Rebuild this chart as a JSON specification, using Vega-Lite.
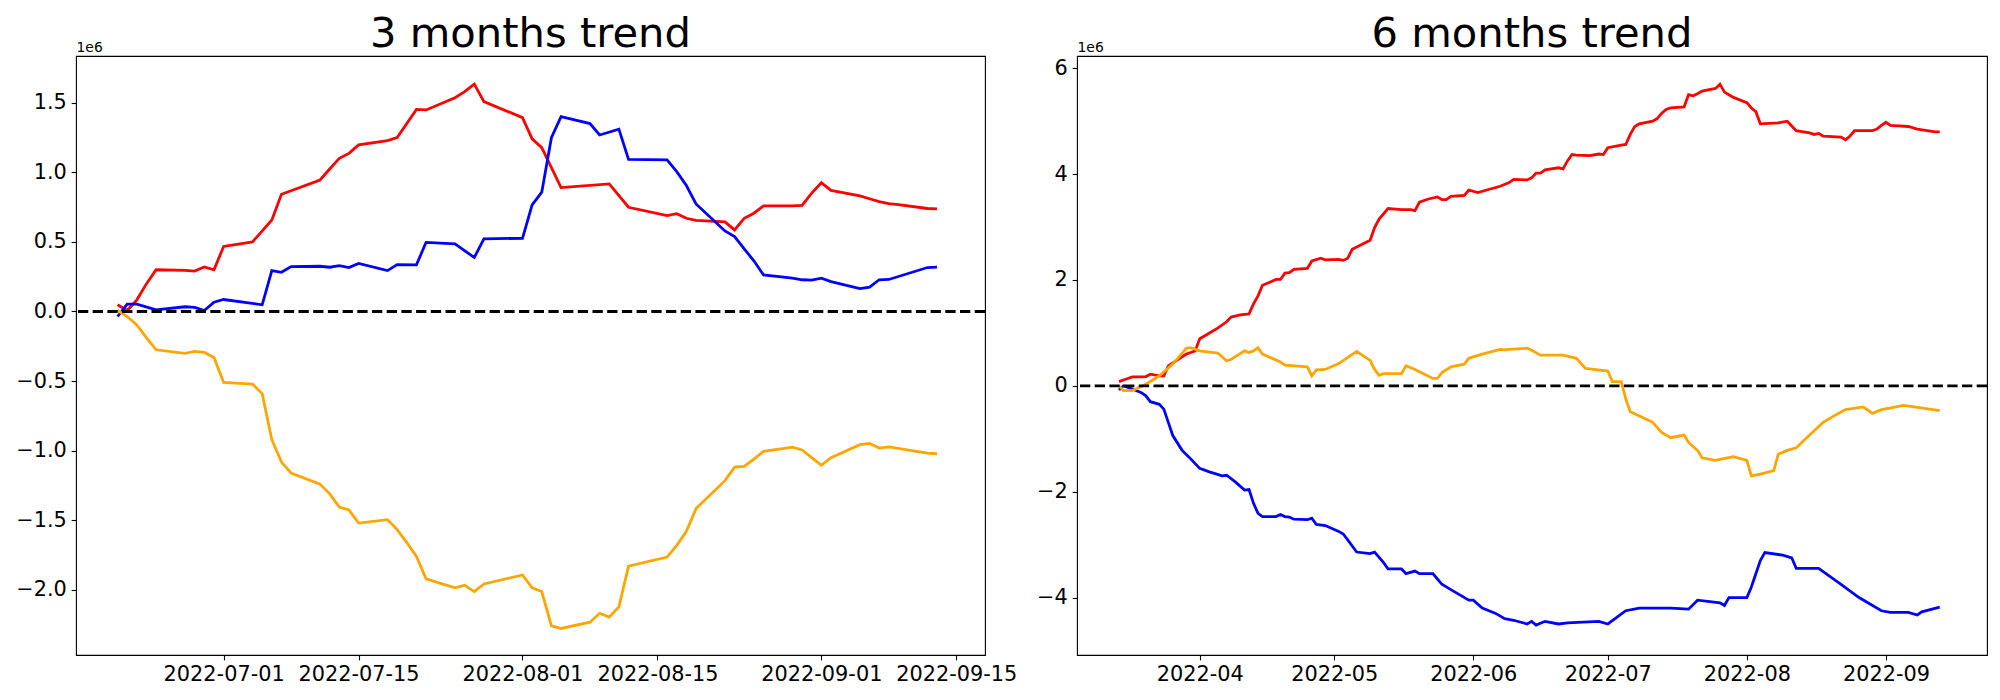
{
"$schema": "https://vega.github.io/schema/vega-lite/v6.json",
"background": "white",
"autosize": {"type": "pad"},
"padding": {"left": 15, "top": 13, "right": 0, "bottom": 0},
"config": {
  "view": {"stroke": "black", "strokeWidth": 1.1},
  "axis": {"domain": false, "grid": false, "tickColor": "black", "tickSize": 4.86, "tickWidth": 1.1, "labelFont": "DejaVu Sans", "labelFontSize": 20.83, "labelColor": "black", "labelPadding": 4.86, "labelOverlap": false, "labelFlush": false, "labelBound": false},
  "title": {"font": "DejaVu Sans", "fontSize": 41.67, "fontWeight": "normal", "color": "black", "offset": -15.4, "baseline": "alphabetic", "frame": "group", "anchor": "middle"}
},
"spacing": 92,
"bounds": "flush",
"datasets": {
"m3": [
{"d":"2022-06-20","s":"r","v":48000},{"d":"2022-06-21","s":"r","v":7000},{"d":"2022-06-22","s":"r","v":84000},{"d":"2022-06-23","s":"r","v":200000},{"d":"2022-06-24","s":"r","v":300000},{"d":"2022-06-27","s":"r","v":296000},{"d":"2022-06-28","s":"r","v":290000},{"d":"2022-06-29","s":"r","v":320000},{"d":"2022-06-30","s":"r","v":300000},{"d":"2022-07-01","s":"r","v":467000},{"d":"2022-07-04","s":"r","v":500000},{"d":"2022-07-06","s":"r","v":658000},{"d":"2022-07-07","s":"r","v":842000},{"d":"2022-07-11","s":"r","v":945000},{"d":"2022-07-12","s":"r","v":1024000},{"d":"2022-07-13","s":"r","v":1100000},{"d":"2022-07-14","s":"r","v":1136000},{"d":"2022-07-15","s":"r","v":1197000},{"d":"2022-07-18","s":"r","v":1228000},{"d":"2022-07-19","s":"r","v":1249000},{"d":"2022-07-21","s":"r","v":1452000},{"d":"2022-07-22","s":"r","v":1448000},{"d":"2022-07-25","s":"r","v":1536000},{"d":"2022-07-26","s":"r","v":1579000},{"d":"2022-07-27","s":"r","v":1634000},{"d":"2022-07-28","s":"r","v":1508000},{"d":"2022-08-01","s":"r","v":1393000},{"d":"2022-08-02","s":"r","v":1240000},{"d":"2022-08-03","s":"r","v":1177000},{"d":"2022-08-05","s":"r","v":890000},{"d":"2022-08-10","s":"r","v":917000},{"d":"2022-08-12","s":"r","v":749000},{"d":"2022-08-16","s":"r","v":689000},{"d":"2022-08-17","s":"r","v":703000},{"d":"2022-08-18","s":"r","v":670000},{"d":"2022-08-19","s":"r","v":655000},{"d":"2022-08-22","s":"r","v":644000},{"d":"2022-08-23","s":"r","v":586000},{"d":"2022-08-24","s":"r","v":670000},{"d":"2022-08-25","s":"r","v":706000},{"d":"2022-08-26","s":"r","v":759000},{"d":"2022-08-29","s":"r","v":759000},{"d":"2022-08-30","s":"r","v":762000},{"d":"2022-08-31","s":"r","v":850000},{"d":"2022-09-01","s":"r","v":925000},{"d":"2022-09-02","s":"r","v":870000},{"d":"2022-09-05","s":"r","v":830000},{"d":"2022-09-06","s":"r","v":810000},{"d":"2022-09-07","s":"r","v":790000},{"d":"2022-09-08","s":"r","v":775000},{"d":"2022-09-09","s":"r","v":767000},{"d":"2022-09-12","s":"r","v":740000},{"d":"2022-09-13","s":"r","v":737000},
{"d":"2022-06-20","s":"b","v":-36000},{"d":"2022-06-21","s":"b","v":53000},{"d":"2022-06-22","s":"b","v":53000},{"d":"2022-06-24","s":"b","v":12000},{"d":"2022-06-27","s":"b","v":34000},{"d":"2022-06-28","s":"b","v":29000},{"d":"2022-06-29","s":"b","v":7000},{"d":"2022-06-30","s":"b","v":67000},{"d":"2022-07-01","s":"b","v":86000},{"d":"2022-07-05","s":"b","v":48000},{"d":"2022-07-06","s":"b","v":294000},{"d":"2022-07-07","s":"b","v":282000},{"d":"2022-07-08","s":"b","v":323000},{"d":"2022-07-11","s":"b","v":325000},{"d":"2022-07-12","s":"b","v":318000},{"d":"2022-07-13","s":"b","v":330000},{"d":"2022-07-14","s":"b","v":316000},{"d":"2022-07-15","s":"b","v":345000},{"d":"2022-07-18","s":"b","v":294000},{"d":"2022-07-19","s":"b","v":337000},{"d":"2022-07-21","s":"b","v":335000},{"d":"2022-07-22","s":"b","v":497000},{"d":"2022-07-25","s":"b","v":486000},{"d":"2022-07-27","s":"b","v":388000},{"d":"2022-07-28","s":"b","v":522000},{"d":"2022-08-01","s":"b","v":526000},{"d":"2022-08-02","s":"b","v":766000},{"d":"2022-08-03","s":"b","v":857000},{"d":"2022-08-04","s":"b","v":1249000},{"d":"2022-08-05","s":"b","v":1400000},{"d":"2022-08-08","s":"b","v":1350000},{"d":"2022-08-09","s":"b","v":1268000},{"d":"2022-08-11","s":"b","v":1310000},{"d":"2022-08-12","s":"b","v":1093000},{"d":"2022-08-16","s":"b","v":1089000},{"d":"2022-08-17","s":"b","v":1005000},{"d":"2022-08-18","s":"b","v":905000},{"d":"2022-08-19","s":"b","v":773000},{"d":"2022-08-22","s":"b","v":579000},{"d":"2022-08-23","s":"b","v":538000},{"d":"2022-08-24","s":"b","v":450000},{"d":"2022-08-25","s":"b","v":364000},{"d":"2022-08-26","s":"b","v":263000},{"d":"2022-08-29","s":"b","v":239000},{"d":"2022-08-30","s":"b","v":228000},{"d":"2022-08-31","s":"b","v":225000},{"d":"2022-09-01","s":"b","v":240000},{"d":"2022-09-02","s":"b","v":215000},{"d":"2022-09-05","s":"b","v":165000},{"d":"2022-09-06","s":"b","v":175000},{"d":"2022-09-07","s":"b","v":228000},{"d":"2022-09-08","s":"b","v":230000},{"d":"2022-09-12","s":"b","v":316000},{"d":"2022-09-13","s":"b","v":318000},
{"d":"2022-06-20","s":"o","v":7000},{"d":"2022-06-21","s":"o","v":-36000},{"d":"2022-06-22","s":"o","v":-96000},{"d":"2022-06-23","s":"o","v":-190000},{"d":"2022-06-24","s":"o","v":-275000},{"d":"2022-06-27","s":"o","v":-300000},{"d":"2022-06-28","s":"o","v":-287000},{"d":"2022-06-29","s":"o","v":-294000},{"d":"2022-06-30","s":"o","v":-330000},{"d":"2022-07-01","s":"o","v":-510000},{"d":"2022-07-04","s":"o","v":-522000},{"d":"2022-07-05","s":"o","v":-590000},{"d":"2022-07-06","s":"o","v":-921000},{"d":"2022-07-07","s":"o","v":-1082000},{"d":"2022-07-08","s":"o","v":-1160000},{"d":"2022-07-11","s":"o","v":-1240000},{"d":"2022-07-12","s":"o","v":-1310000},{"d":"2022-07-13","s":"o","v":-1405000},{"d":"2022-07-14","s":"o","v":-1426000},{"d":"2022-07-15","s":"o","v":-1520000},{"d":"2022-07-18","s":"o","v":-1495000},{"d":"2022-07-19","s":"o","v":-1567000},{"d":"2022-07-20","s":"o","v":-1660000},{"d":"2022-07-21","s":"o","v":-1760000},{"d":"2022-07-22","s":"o","v":-1920000},{"d":"2022-07-25","s":"o","v":-1985000},{"d":"2022-07-26","s":"o","v":-1966000},{"d":"2022-07-27","s":"o","v":-2012000},{"d":"2022-07-28","s":"o","v":-1957000},{"d":"2022-08-01","s":"o","v":-1893000},{"d":"2022-08-02","s":"o","v":-1985000},{"d":"2022-08-03","s":"o","v":-2012000},{"d":"2022-08-04","s":"o","v":-2259000},{"d":"2022-08-05","s":"o","v":-2277000},{"d":"2022-08-08","s":"o","v":-2232000},{"d":"2022-08-09","s":"o","v":-2168000},{"d":"2022-08-10","s":"o","v":-2195000},{"d":"2022-08-11","s":"o","v":-2122000},{"d":"2022-08-12","s":"o","v":-1830000},{"d":"2022-08-16","s":"o","v":-1764000},{"d":"2022-08-17","s":"o","v":-1680000},{"d":"2022-08-18","s":"o","v":-1579000},{"d":"2022-08-19","s":"o","v":-1416000},{"d":"2022-08-22","s":"o","v":-1215000},{"d":"2022-08-23","s":"o","v":-1118000},{"d":"2022-08-24","s":"o","v":-1113000},{"d":"2022-08-25","s":"o","v":-1060000},{"d":"2022-08-26","s":"o","v":-1005000},{"d":"2022-08-29","s":"o","v":-975000},{"d":"2022-08-30","s":"o","v":-995000},{"d":"2022-08-31","s":"o","v":-1050000},{"d":"2022-09-01","s":"o","v":-1105000},{"d":"2022-09-02","s":"o","v":-1050000},{"d":"2022-09-05","s":"o","v":-957000},{"d":"2022-09-06","s":"o","v":-948000},{"d":"2022-09-07","s":"o","v":-981000},{"d":"2022-09-08","s":"o","v":-972000},{"d":"2022-09-12","s":"o","v":-1017000},{"d":"2022-09-13","s":"o","v":-1022000}
],
"m6": [
{"d":"2022-03-14","s":"r","v":80000},{"d":"2022-03-15","s":"r","v":110000},{"d":"2022-03-17","s":"r","v":170000},{"d":"2022-03-19","s":"r","v":170000},{"d":"2022-03-20","s":"r","v":175000},{"d":"2022-03-21","s":"r","v":220000},{"d":"2022-03-23","s":"r","v":190000},{"d":"2022-03-24","s":"r","v":190000},{"d":"2022-03-25","s":"r","v":377000},{"d":"2022-03-29","s":"r","v":600000},{"d":"2022-03-30","s":"r","v":630000},{"d":"2022-03-31","s":"r","v":660000},{"d":"2022-04-01","s":"r","v":890000},{"d":"2022-04-03","s":"r","v":990000},{"d":"2022-04-05","s":"r","v":1090000},{"d":"2022-04-07","s":"r","v":1210000},{"d":"2022-04-08","s":"r","v":1300000},{"d":"2022-04-10","s":"r","v":1340000},{"d":"2022-04-12","s":"r","v":1360000},{"d":"2022-04-13","s":"r","v":1550000},{"d":"2022-04-14","s":"r","v":1700000},{"d":"2022-04-15","s":"r","v":1900000},{"d":"2022-04-17","s":"r","v":1970000},{"d":"2022-04-18","s":"r","v":2010000},{"d":"2022-04-19","s":"r","v":2010000},{"d":"2022-04-20","s":"r","v":2130000},{"d":"2022-04-21","s":"r","v":2140000},{"d":"2022-04-22","s":"r","v":2200000},{"d":"2022-04-25","s":"r","v":2220000},{"d":"2022-04-26","s":"r","v":2360000},{"d":"2022-04-28","s":"r","v":2410000},{"d":"2022-04-29","s":"r","v":2380000},{"d":"2022-05-02","s":"r","v":2390000},{"d":"2022-05-03","s":"r","v":2370000},{"d":"2022-05-04","s":"r","v":2410000},{"d":"2022-05-05","s":"r","v":2580000},{"d":"2022-05-09","s":"r","v":2750000},{"d":"2022-05-10","s":"r","v":2990000},{"d":"2022-05-11","s":"r","v":3150000},{"d":"2022-05-13","s":"r","v":3350000},{"d":"2022-05-16","s":"r","v":3330000},{"d":"2022-05-18","s":"r","v":3330000},{"d":"2022-05-19","s":"r","v":3310000},{"d":"2022-05-20","s":"r","v":3470000},{"d":"2022-05-22","s":"r","v":3530000},{"d":"2022-05-24","s":"r","v":3570000},{"d":"2022-05-25","s":"r","v":3520000},{"d":"2022-05-26","s":"r","v":3520000},{"d":"2022-05-27","s":"r","v":3580000},{"d":"2022-05-30","s":"r","v":3600000},{"d":"2022-05-31","s":"r","v":3700000},{"d":"2022-06-02","s":"r","v":3650000},{"d":"2022-06-04","s":"r","v":3700000},{"d":"2022-06-07","s":"r","v":3770000},{"d":"2022-06-09","s":"r","v":3840000},{"d":"2022-06-10","s":"r","v":3900000},{"d":"2022-06-13","s":"r","v":3890000},{"d":"2022-06-14","s":"r","v":3930000},{"d":"2022-06-15","s":"r","v":4020000},{"d":"2022-06-16","s":"r","v":4020000},{"d":"2022-06-17","s":"r","v":4080000},{"d":"2022-06-20","s":"r","v":4120000},{"d":"2022-06-21","s":"r","v":4100000},{"d":"2022-06-22","s":"r","v":4250000},{"d":"2022-06-23","s":"r","v":4370000},{"d":"2022-06-24","s":"r","v":4360000},{"d":"2022-06-27","s":"r","v":4350000},{"d":"2022-06-29","s":"r","v":4380000},{"d":"2022-06-30","s":"r","v":4370000},{"d":"2022-07-01","s":"r","v":4500000},{"d":"2022-07-04","s":"r","v":4550000},{"d":"2022-07-05","s":"r","v":4560000},{"d":"2022-07-06","s":"r","v":4750000},{"d":"2022-07-07","s":"r","v":4900000},{"d":"2022-07-08","s":"r","v":4950000},{"d":"2022-07-11","s":"r","v":5000000},{"d":"2022-07-12","s":"r","v":5050000},{"d":"2022-07-13","s":"r","v":5150000},{"d":"2022-07-14","s":"r","v":5220000},{"d":"2022-07-15","s":"r","v":5250000},{"d":"2022-07-18","s":"r","v":5270000},{"d":"2022-07-19","s":"r","v":5500000},{"d":"2022-07-20","s":"r","v":5480000},{"d":"2022-07-21","s":"r","v":5520000},{"d":"2022-07-22","s":"r","v":5570000},{"d":"2022-07-25","s":"r","v":5620000},{"d":"2022-07-26","s":"r","v":5700000},{"d":"2022-07-27","s":"r","v":5550000},{"d":"2022-07-28","s":"r","v":5500000},{"d":"2022-07-29","s":"r","v":5450000},{"d":"2022-08-01","s":"r","v":5350000},{"d":"2022-08-02","s":"r","v":5250000},{"d":"2022-08-03","s":"r","v":5180000},{"d":"2022-08-04","s":"r","v":4950000},{"d":"2022-08-08","s":"r","v":4970000},{"d":"2022-08-10","s":"r","v":5000000},{"d":"2022-08-12","s":"r","v":4820000},{"d":"2022-08-15","s":"r","v":4780000},{"d":"2022-08-16","s":"r","v":4750000},{"d":"2022-08-17","s":"r","v":4770000},{"d":"2022-08-18","s":"r","v":4720000},{"d":"2022-08-22","s":"r","v":4700000},{"d":"2022-08-23","s":"r","v":4650000},{"d":"2022-08-24","s":"r","v":4720000},{"d":"2022-08-25","s":"r","v":4820000},{"d":"2022-08-29","s":"r","v":4820000},{"d":"2022-08-30","s":"r","v":4850000},{"d":"2022-08-31","s":"r","v":4920000},{"d":"2022-09-01","s":"r","v":4980000},{"d":"2022-09-02","s":"r","v":4920000},{"d":"2022-09-06","s":"r","v":4900000},{"d":"2022-09-08","s":"r","v":4850000},{"d":"2022-09-12","s":"r","v":4800000},{"d":"2022-09-13","s":"r","v":4800000},
{"d":"2022-03-14","s":"b","v":-80000},{"d":"2022-03-15","s":"b","v":0},{"d":"2022-03-17","s":"b","v":-60000},{"d":"2022-03-19","s":"b","v":-130000},{"d":"2022-03-20","s":"b","v":-190000},{"d":"2022-03-21","s":"b","v":-300000},{"d":"2022-03-23","s":"b","v":-350000},{"d":"2022-03-24","s":"b","v":-440000},{"d":"2022-03-25","s":"b","v":-690000},{"d":"2022-03-26","s":"b","v":-940000},{"d":"2022-03-28","s":"b","v":-1210000},{"d":"2022-03-29","s":"b","v":-1300000},{"d":"2022-03-30","s":"b","v":-1380000},{"d":"2022-04-01","s":"b","v":-1560000},{"d":"2022-04-03","s":"b","v":-1620000},{"d":"2022-04-06","s":"b","v":-1700000},{"d":"2022-04-07","s":"b","v":-1690000},{"d":"2022-04-09","s":"b","v":-1820000},{"d":"2022-04-11","s":"b","v":-1970000},{"d":"2022-04-12","s":"b","v":-1960000},{"d":"2022-04-13","s":"b","v":-2220000},{"d":"2022-04-14","s":"b","v":-2410000},{"d":"2022-04-15","s":"b","v":-2470000},{"d":"2022-04-18","s":"b","v":-2470000},{"d":"2022-04-19","s":"b","v":-2430000},{"d":"2022-04-20","s":"b","v":-2470000},{"d":"2022-04-21","s":"b","v":-2480000},{"d":"2022-04-22","s":"b","v":-2520000},{"d":"2022-04-25","s":"b","v":-2530000},{"d":"2022-04-26","s":"b","v":-2500000},{"d":"2022-04-27","s":"b","v":-2620000},{"d":"2022-04-29","s":"b","v":-2640000},{"d":"2022-05-02","s":"b","v":-2750000},{"d":"2022-05-03","s":"b","v":-2800000},{"d":"2022-05-04","s":"b","v":-2910000},{"d":"2022-05-06","s":"b","v":-3140000},{"d":"2022-05-09","s":"b","v":-3170000},{"d":"2022-05-10","s":"b","v":-3140000},{"d":"2022-05-12","s":"b","v":-3340000},{"d":"2022-05-13","s":"b","v":-3460000},{"d":"2022-05-16","s":"b","v":-3460000},{"d":"2022-05-17","s":"b","v":-3550000},{"d":"2022-05-19","s":"b","v":-3500000},{"d":"2022-05-20","s":"b","v":-3550000},{"d":"2022-05-23","s":"b","v":-3550000},{"d":"2022-05-24","s":"b","v":-3650000},{"d":"2022-05-25","s":"b","v":-3750000},{"d":"2022-05-27","s":"b","v":-3850000},{"d":"2022-05-31","s":"b","v":-4050000},{"d":"2022-06-01","s":"b","v":-4050000},{"d":"2022-06-03","s":"b","v":-4200000},{"d":"2022-06-06","s":"b","v":-4300000},{"d":"2022-06-08","s":"b","v":-4400000},{"d":"2022-06-10","s":"b","v":-4430000},{"d":"2022-06-13","s":"b","v":-4500000},{"d":"2022-06-14","s":"b","v":-4450000},{"d":"2022-06-15","s":"b","v":-4520000},{"d":"2022-06-17","s":"b","v":-4450000},{"d":"2022-06-20","s":"b","v":-4500000},{"d":"2022-06-22","s":"b","v":-4480000},{"d":"2022-06-29","s":"b","v":-4450000},{"d":"2022-07-01","s":"b","v":-4500000},{"d":"2022-07-05","s":"b","v":-4250000},{"d":"2022-07-08","s":"b","v":-4200000},{"d":"2022-07-15","s":"b","v":-4200000},{"d":"2022-07-19","s":"b","v":-4220000},{"d":"2022-07-21","s":"b","v":-4050000},{"d":"2022-07-26","s":"b","v":-4100000},{"d":"2022-07-27","s":"b","v":-4150000},{"d":"2022-07-28","s":"b","v":-4000000},{"d":"2022-08-01","s":"b","v":-4000000},{"d":"2022-08-02","s":"b","v":-3800000},{"d":"2022-08-04","s":"b","v":-3300000},{"d":"2022-08-05","s":"b","v":-3150000},{"d":"2022-08-09","s":"b","v":-3200000},{"d":"2022-08-11","s":"b","v":-3250000},{"d":"2022-08-12","s":"b","v":-3450000},{"d":"2022-08-17","s":"b","v":-3450000},{"d":"2022-08-22","s":"b","v":-3750000},{"d":"2022-08-26","s":"b","v":-4000000},{"d":"2022-08-31","s":"b","v":-4250000},{"d":"2022-09-02","s":"b","v":-4280000},{"d":"2022-09-06","s":"b","v":-4280000},{"d":"2022-09-08","s":"b","v":-4330000},{"d":"2022-09-09","s":"b","v":-4270000},{"d":"2022-09-13","s":"b","v":-4180000},
{"d":"2022-03-14","s":"o","v":0},{"d":"2022-03-15","s":"o","v":-90000},{"d":"2022-03-17","s":"o","v":-90000},{"d":"2022-03-19","s":"o","v":-10000},{"d":"2022-03-20","s":"o","v":30000},{"d":"2022-03-23","s":"o","v":190000},{"d":"2022-03-26","s":"o","v":410000},{"d":"2022-03-29","s":"o","v":710000},{"d":"2022-03-30","s":"o","v":720000},{"d":"2022-04-01","s":"o","v":660000},{"d":"2022-04-05","s":"o","v":620000},{"d":"2022-04-06","s":"o","v":550000},{"d":"2022-04-07","s":"o","v":470000},{"d":"2022-04-08","s":"o","v":500000},{"d":"2022-04-11","s":"o","v":660000},{"d":"2022-04-12","s":"o","v":630000},{"d":"2022-04-13","s":"o","v":660000},{"d":"2022-04-14","s":"o","v":720000},{"d":"2022-04-15","s":"o","v":600000},{"d":"2022-04-19","s":"o","v":450000},{"d":"2022-04-20","s":"o","v":390000},{"d":"2022-04-25","s":"o","v":360000},{"d":"2022-04-26","s":"o","v":190000},{"d":"2022-04-27","s":"o","v":300000},{"d":"2022-04-29","s":"o","v":310000},{"d":"2022-05-02","s":"o","v":420000},{"d":"2022-05-06","s":"o","v":650000},{"d":"2022-05-09","s":"o","v":480000},{"d":"2022-05-10","s":"o","v":310000},{"d":"2022-05-11","s":"o","v":200000},{"d":"2022-05-12","s":"o","v":230000},{"d":"2022-05-16","s":"o","v":230000},{"d":"2022-05-17","s":"o","v":380000},{"d":"2022-05-19","s":"o","v":310000},{"d":"2022-05-23","s":"o","v":140000},{"d":"2022-05-24","s":"o","v":140000},{"d":"2022-05-25","s":"o","v":250000},{"d":"2022-05-27","s":"o","v":360000},{"d":"2022-05-30","s":"o","v":410000},{"d":"2022-05-31","s":"o","v":520000},{"d":"2022-06-03","s":"o","v":600000},{"d":"2022-06-07","s":"o","v":690000},{"d":"2022-06-08","s":"o","v":680000},{"d":"2022-06-09","s":"o","v":690000},{"d":"2022-06-13","s":"o","v":710000},{"d":"2022-06-14","s":"o","v":670000},{"d":"2022-06-16","s":"o","v":580000},{"d":"2022-06-21","s":"o","v":580000},{"d":"2022-06-24","s":"o","v":520000},{"d":"2022-06-26","s":"o","v":330000},{"d":"2022-07-01","s":"o","v":280000},{"d":"2022-07-02","s":"o","v":80000},{"d":"2022-07-04","s":"o","v":80000},{"d":"2022-07-05","s":"o","v":-250000},{"d":"2022-07-06","s":"o","v":-490000},{"d":"2022-07-09","s":"o","v":-610000},{"d":"2022-07-11","s":"o","v":-690000},{"d":"2022-07-13","s":"o","v":-880000},{"d":"2022-07-15","s":"o","v":-980000},{"d":"2022-07-18","s":"o","v":-930000},{"d":"2022-07-19","s":"o","v":-1070000},{"d":"2022-07-21","s":"o","v":-1220000},{"d":"2022-07-22","s":"o","v":-1360000},{"d":"2022-07-25","s":"o","v":-1410000},{"d":"2022-07-26","s":"o","v":-1390000},{"d":"2022-07-29","s":"o","v":-1340000},{"d":"2022-08-01","s":"o","v":-1410000},{"d":"2022-08-02","s":"o","v":-1700000},{"d":"2022-08-04","s":"o","v":-1670000},{"d":"2022-08-07","s":"o","v":-1600000},{"d":"2022-08-08","s":"o","v":-1290000},{"d":"2022-08-10","s":"o","v":-1220000},{"d":"2022-08-12","s":"o","v":-1170000},{"d":"2022-08-15","s":"o","v":-930000},{"d":"2022-08-18","s":"o","v":-690000},{"d":"2022-08-21","s":"o","v":-540000},{"d":"2022-08-23","s":"o","v":-450000},{"d":"2022-08-27","s":"o","v":-400000},{"d":"2022-08-29","s":"o","v":-520000},{"d":"2022-08-31","s":"o","v":-450000},{"d":"2022-09-05","s":"o","v":-370000},{"d":"2022-09-13","s":"o","v":-470000}
]
},
"hconcat": [
{
  "width": 909, "height": 599,
  "title": {"text": "3 months trend"},
  "layer": [
    {"data": {"name": "m3"}, "transform": [{"filter": "datum.s === 'r'"}],
     "mark": {"type": "line", "color": "red", "strokeWidth": 2.78},
     "encoding": {
       "x": {"field": "d", "type": "temporal", "scale": {"type": "utc", "domain": [1655310600000, 1663457000000], "nice": false},
             "axis": {"values": [1656633600000, 1657843200000, 1659312000000, 1660521600000, 1661990400000, 1663200000000], "format": "%Y-%m-%d", "title": null}},
       "y": {"field": "v", "type": "quantitative", "scale": {"domain": [-2467700, 1835500], "nice": false, "zero": false},
             "axis": {"values": [-2000000, -1500000, -1000000, -500000, 0, 500000, 1000000, 1500000], "labelExpr": "format(datum.value/1e6, '.1f')",
                      "title": "1e6", "titleAngle": 0, "titleX": 0, "titleY": -5, "titleAlign": "left", "titleBaseline": "alphabetic", "titleFont": "DejaVu Sans", "titleFontSize": 13.9, "titleFontWeight": "normal", "titleColor": "black"}}
     }},
    {"data": {"name": "m3"}, "transform": [{"filter": "datum.s === 'b'"}],
     "mark": {"type": "line", "color": "blue", "strokeWidth": 2.78},
     "encoding": {"x": {"field": "d", "type": "temporal"}, "y": {"field": "v", "type": "quantitative"}}},
    {"data": {"name": "m3"}, "transform": [{"filter": "datum.s === 'o'"}],
     "mark": {"type": "line", "color": "orange", "strokeWidth": 2.78},
     "encoding": {"x": {"field": "d", "type": "temporal"}, "y": {"field": "v", "type": "quantitative"}}},
    {"data": {"values": [{}]},
     "mark": {"type": "rule", "color": "black", "strokeWidth": 2.78, "strokeDash": [10.3, 4.4]},
     "encoding": {"y": {"datum": 0}}}
  ]
},
{
  "width": 910, "height": 599,
  "title": {"text": "6 months trend"},
  "layer": [
    {"data": {"name": "m6"}, "transform": [{"filter": "datum.s === 'r'"}],
     "mark": {"type": "line", "color": "red", "strokeWidth": 2.78},
     "encoding": {
       "x": {"field": "d", "type": "temporal", "scale": {"type": "utc", "domain": [1646407296000, 1663937856000], "nice": false},
             "axis": {"values": [1648771200000, 1651363200000, 1654041600000, 1656633600000, 1659312000000, 1661990400000], "format": "%Y-%m", "title": null}},
       "y": {"field": "v", "type": "quantitative", "scale": {"domain": [-5086000, 6232000], "nice": false, "zero": false},
             "axis": {"values": [-4000000, -2000000, 0, 2000000, 4000000, 6000000], "labelExpr": "format(datum.value/1e6, '.0f')",
                      "title": "1e6", "titleAngle": 0, "titleX": 0, "titleY": -5, "titleAlign": "left", "titleBaseline": "alphabetic", "titleFont": "DejaVu Sans", "titleFontSize": 13.9, "titleFontWeight": "normal", "titleColor": "black"}}
     }},
    {"data": {"name": "m6"}, "transform": [{"filter": "datum.s === 'b'"}],
     "mark": {"type": "line", "color": "blue", "strokeWidth": 2.78},
     "encoding": {"x": {"field": "d", "type": "temporal"}, "y": {"field": "v", "type": "quantitative"}}},
    {"data": {"name": "m6"}, "transform": [{"filter": "datum.s === 'o'"}],
     "mark": {"type": "line", "color": "orange", "strokeWidth": 2.78},
     "encoding": {"x": {"field": "d", "type": "temporal"}, "y": {"field": "v", "type": "quantitative"}}},
    {"data": {"values": [{}]},
     "mark": {"type": "rule", "color": "black", "strokeWidth": 2.78, "strokeDash": [10.3, 4.4]},
     "encoding": {"y": {"datum": 0}}}
  ]
}
]
}
